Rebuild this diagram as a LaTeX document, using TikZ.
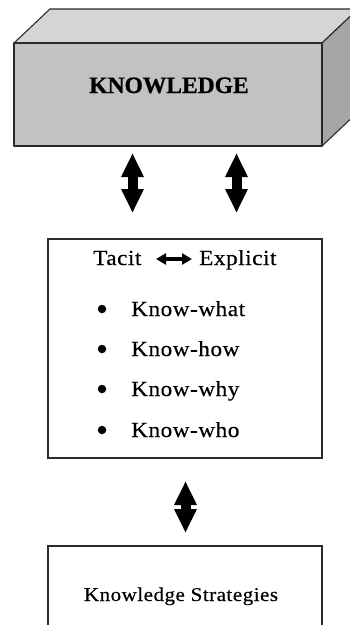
\documentclass[tikz,border=0pt]{standalone}
\usepackage{fontspec}
\setmainfont{Liberation Serif}
\newfontfamily\spaced[LetterSpace=2.5,FakeStretch=1.08,FakeBold=0.4]{Liberation Serif}
\newfontfamily\heavy[FakeBold=0.8]{Liberation Serif Bold}
\usetikzlibrary{arrows.meta}
\definecolor{boxfront}{HTML}{C2C2C2}
\definecolor{boxtop}{HTML}{D5D5D5}
\definecolor{boxside}{HTML}{A6A6A6}
\definecolor{edge}{HTML}{2A2A2A}
\begin{document}
\begin{tikzpicture}[x=1pt,y=-1pt,
  frame/.style={draw=edge,line width=1.4pt},
  solid3d/.style={draw=edge,line width=1.1pt,line join=round},
  label/.style={inner sep=0pt,font=\spaced\fontsize{21.5}{26}\selectfont},
  bigarrow/.style={line width=10pt,
    {Triangle[length=24pt,width=21pt]}-{Triangle[length=24pt,width=21pt]}},
  smallarrow/.style={line width=4pt,
    {Triangle[length=10pt,width=11pt]}-{Triangle[length=10pt,width=11pt]}},
  dot/.style={circle,fill=black,inner sep=0pt,minimum size=8.5pt}]
\useasboundingbox (0,0) rectangle (350,625);

% three-dimensional block
\filldraw[solid3d,fill=boxtop] (14,43) -- (50,9) -- (358,9) -- (322,43) -- cycle;
\filldraw[solid3d,fill=boxside] (322,43) -- (358,9) -- (358,112) -- (322,146) -- cycle;
\filldraw[solid3d,fill=boxfront] (14,43) rectangle (322,146);
\node[anchor=base,inner sep=0pt,font=\heavy\fontsize{23.5}{28}\selectfont] (know) at (169,93) {KNOWLEDGE};

% middle panel
\draw[frame] (48,239) rectangle (322,458);
\node[label,anchor=base west] (tacit) at (93,265) {Tacit};
\node[label,anchor=base west] (explicit) at (199,265) {Explicit};
\coordinate (te) at (156,259);
\coordinate (ex) at (192,259);
\draw[smallarrow] (te) -- (ex);

\node[dot] (b1) at (102,309) {};
\node[dot] (b2) at (102,349) {};
\node[dot] (b3) at (102,389) {};
\node[dot] (b4) at (102,430) {};
\node[label,anchor=base west] (what) at (131,316) {Know-what};
\node[label,anchor=base west] (how) at (131,356) {Know-how};
\node[label,anchor=base west] (why) at (131,396) {Know-why};
\node[label,anchor=base west] (who) at (131,437) {Know-who};

% bottom panel
\draw[frame] (48,546) rectangle (322,640);
\node[anchor=base,inner sep=0pt,font=\spaced\fontsize{19.5}{24}\selectfont] (strat) at (181,601) {Knowledge Strategies};

% links between the levels
\coordinate (a1t) at (132.5,153);
\coordinate (a1b) at (132.5,213);
\coordinate (a2t) at (236.5,153);
\coordinate (a2b) at (236.5,213);
\coordinate (a3t) at (185.5,481);
\coordinate (a3b) at (185.5,533);
\draw[bigarrow] (a1t) -- (a1b);
\draw[bigarrow] (a2t) -- (a2b);
\draw[bigarrow] (a3t) -- (a3b);
\end{tikzpicture}
\end{document}
